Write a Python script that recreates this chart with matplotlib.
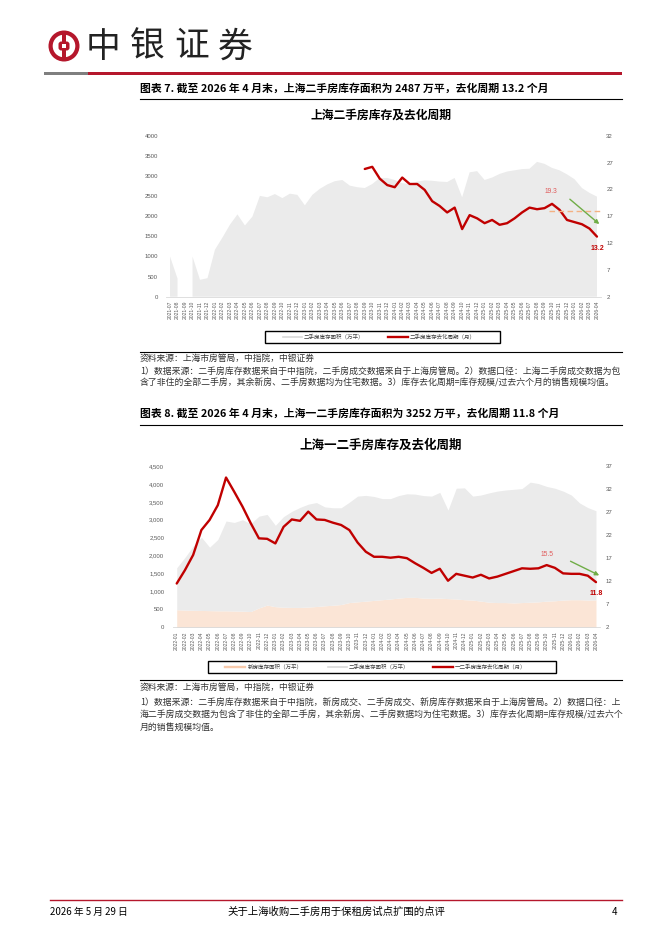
import numpy as np
import pandas as pd
import matplotlib.pyplot as plt
from matplotlib.patches import Circle, Rectangle, FancyBboxPatch

plt.rcParams['font.family'] = ['Noto Sans CJK SC', 'DejaVu Sans']

# ---- data ----
months_1 = list(pd.period_range('2021-07', '2026-04', freq='M').strftime('%Y-%m'))
months_2 = list(pd.period_range('2022-01', '2026-04', freq='M').strftime('%Y-%m'))

# 二手房库存面积（万平）, 2021-07 .. 2026-04
second_area = [1000, 450, np.nan, 1000, 420, 460, 1170, 1470, 1790, 2045,
               1770, 1990, 2505, 2470, 2550, 2450, 2560, 2530, 2270, 2530,
               2680, 2790, 2870, 2900, 2760, 2720, 2700, 2800, 2950, 2950,
               2900, 2820, 2800, 2860, 2890, 2880, 2860, 2850, 2950, 2470,
               3090, 3120, 2900, 2960, 3050, 3110, 3140, 3170, 3180, 3350,
               3300, 3200, 3140, 3040, 2920, 2700, 2580, 2487]
# 二手房库存去化周期（月）
second_cycle = [np.nan] * 26 + [25.8, 26.2, 24.0, 22.8, 22.4, 24.2, 23.0, 23.0,
                                21.9, 19.8, 18.9, 17.7, 18.6, 14.6, 17.2, 16.6,
                                15.7, 16.3, 15.4, 15.7, 16.6, 17.7, 18.6, 18.3,
                                18.5, 19.3, 18.2, 16.3, 15.9, 15.5, 14.7, 13.2]

# 新房库存面积（万平）, 2022-01 .. 2026-04
new_area = [490, 480, 475, 470, 465, 460, 460, 455, 450, 440,
            540, 620, 575, 560, 555, 555, 565, 580, 600, 615,
            635, 690, 710, 730, 750, 770, 790, 815, 835, 835,
            815, 810, 815, 800, 790, 770, 760, 730, 700, 690,
            690, 680, 690, 700, 710, 730, 740, 760, 770, 770,
            760, 765]
# 一二手房库存去化周期（月）
total_cycle = [11.5, 14.4, 17.7, 23.1, 25.3, 28.5, 34.5, 31.4, 28.2, 24.6,
               21.3, 21.2, 20.2, 23.8, 25.4, 25.1, 27.1, 25.4, 25.3, 24.7,
               24.2, 23.1, 20.4, 18.4, 17.3, 17.3, 17.1, 17.3, 17.0, 15.9,
               14.9, 13.8, 14.7, 12.1, 13.6, 13.2, 12.8, 13.4, 12.6, 13.0,
               13.6, 14.2, 14.8, 14.7, 14.8, 15.5, 14.9, 13.7, 13.6, 13.6,
               13.2, 11.8]

RED = '#c00000'
GRAY_AREA = '#ebebeb'
ORANGE_AREA = '#fbe5d6'
GREEN = '#70ad47'
TICK = '#595959'
BRAND = '#b5172c'
NOTE = '#333333'

W, H = 662, 936
fig = plt.figure(figsize=(W / 100, H / 100), dpi=100)

page = fig.add_axes([0, 0, 1, 1])
page.set_xlim(0, W)
page.set_ylim(H, 0)
page.axis('off')


def px_axes(x0, y0, x1, y1):
    return fig.add_axes([x0 / W, 1 - y1 / H, (x1 - x0) / W, (y1 - y0) / H])


# ---- header ----
cx, cy = 64, 46
page.add_patch(Circle((cx, cy), 15.5, fc=BRAND, ec='none'))
page.add_patch(Circle((cx, cy), 11.3, fc='white', ec='none'))
page.add_patch(Rectangle((cx - 1.8, cy - 13.5), 3.6, 27, fc=BRAND, ec='none'))
page.add_patch(FancyBboxPatch((cx - 5.5, cy - 4.5), 11, 9, boxstyle='round,pad=0,rounding_size=2.8',
                              fc=BRAND, ec='none'))
page.add_patch(Rectangle((cx - 2.4, cy - 1.8), 4.8, 3.6, fc='white', ec='none'))
for k, ch in enumerate('中银证券'):
    page.text(86 + k * 44, 47, ch, fontsize=25, color='#222222', va='center', ha='left')
page.add_patch(Rectangle((44, 71.5), 44, 3.5, fc='#7f7f7f', ec='none'))
page.add_patch(Rectangle((88, 71.5), 534, 3.5, fc=BRAND, ec='none'))

# ---- chart 1 ----
page.text(140, 88, '图表 7. 截至 2026 年 4 月末，上海二手房库存面积为 2487 万平，去化周期 13.2 个月',
          fontsize=7.8, fontweight='bold', va='center', ha='left', color='black')
page.plot([140, 622], [99, 99], color='black', lw=0.8)
page.text(381, 115, '上海二手房库存及去化周期', fontsize=8.5, fontweight='bold', ha='center', va='center')


def style_axes(ax, axr, labels, ymax, yticks, ylabels, rlim, rticks):
    n = len(labels)
    ax.set_facecolor('none')
    ax.set_xlim(-0.5, n - 0.5)
    ax.set_ylim(0, ymax)
    ax.set_yticks(yticks)
    ax.set_yticklabels(ylabels)
    ax.set_xticks(range(n))
    ax.set_xticklabels(labels, rotation=90)
    ax.tick_params(axis='x', length=0, labelsize=3.6, labelcolor=TICK, pad=3)
    ax.tick_params(axis='y', length=0, labelsize=4.3, labelcolor=TICK, pad=6)
    for s in ax.spines.values():
        s.set_visible(False)
    ax.spines['bottom'].set_visible(True)
    ax.spines['bottom'].set_color('#d9d9d9')
    ax.spines['bottom'].set_linewidth(0.6)
    axr.set_ylim(*rlim)
    axr.set_yticks(rticks)
    axr.tick_params(axis='y', length=0, labelsize=4.3, labelcolor=TICK, pad=4)
    for s in axr.spines.values():
        s.set_visible(False)
    for t in ax.get_xticklabels() + ax.get_yticklabels() + axr.get_yticklabels():
        t.set_family(['Liberation Sans', 'DejaVu Sans'])


x1 = np.arange(len(months_1))
ax1 = px_axes(166.3, 135.7, 600.7, 296.7)
ax1.fill_between(x1, 0, np.array(second_area, dtype=float), color=GRAY_AREA, lw=0)
ax1r = ax1.twinx()
ax1r.plot(x1, second_cycle, color=RED, lw=1.7, solid_joinstyle='round', solid_capstyle='round')
style_axes(ax1, ax1r, months_1, 4000, range(0, 4001, 500), [str(v) for v in range(0, 4001, 500)],
           (2, 32), range(2, 33, 5))
ax1r.plot([50.6, 57.7], [18.0, 18.0], color='#f4b183', lw=1.0, ls=(0, (4, 2.5)), clip_on=False)
ax1r.annotate('', xy=(57.6, 15.2), xytext=(53.1, 20.5),
              arrowprops=dict(arrowstyle='-|>', color=GREEN, lw=1.0, mutation_scale=6),
              annotation_clip=False)
ax1r.text(50.9, 21.6, '19.3', fontsize=4.8, color='#e05a5a', ha='center', va='center',
          family=['Liberation Sans', 'DejaVu Sans'])
ax1r.text(57.1, 11.0, '13.2', fontsize=5, color=RED, fontweight='bold', ha='center', va='center',
          family=['Liberation Sans', 'DejaVu Sans'])

# legend 1
page.add_patch(Rectangle((265, 331), 235, 12, fc='white', ec='black', lw=1.0))
page.plot([283, 302], [337, 337], color='#d9d9d9', lw=1.2)
page.text(304, 337, '二手房库存面积（万平）', fontsize=4, ha='left', va='center', color='#404040')
page.plot([388, 408], [337, 337], color=RED, lw=1.7)
page.text(410, 337, '二手房库存去化周期（月）', fontsize=4, ha='left', va='center', color='#404040')

page.plot([140, 622], [352, 352], color='black', lw=0.8)
page.text(140, 358, '资料来源：上海市房管局，中指院，中银证券', fontsize=6.3, ha='left', va='center', color=NOTE)
page.text(140, 371, '1）数据来源：二手房库存数据来自于中指院，二手房成交数据来自于上海房管局。2）数据口径：上海二手房成交数据为包',
          fontsize=6.4, ha='left', va='center', color=NOTE)
page.text(140, 383, '含了非住的全部二手房，其余新房、二手房数据均为住宅数据。3）库存去化周期=库存规模/过去六个月的销售规模均值。',
          fontsize=6.4, ha='left', va='center', color=NOTE)

# ---- chart 2 ----
page.text(140, 413, '图表 8. 截至 2026 年 4 月末，上海一二手房库存面积为 3252 万平，去化周期 11.8 个月',
          fontsize=7.8, fontweight='bold', va='center', ha='left', color='black')
page.plot([140, 622], [425, 425], color='black', lw=0.8)
page.text(381, 445, '上海一二手房库存及去化周期', fontsize=9, fontweight='bold', ha='center', va='center')

x2 = np.arange(len(months_2))
new = np.array(new_area, dtype=float)
second = np.array(second_area[6:], dtype=float)
ax2 = px_axes(172.6, 466, 600.1, 627.3)
ax2.fill_between(x2, 0, new, color=ORANGE_AREA, lw=0)
ax2.fill_between(x2, new, new + second, color=GRAY_AREA, lw=0)
ax2r = ax2.twinx()
ax2r.plot(x2, total_cycle, color=RED, lw=1.7, solid_joinstyle='round', solid_capstyle='round')
style_axes(ax2, ax2r, months_2, 4500, range(0, 4501, 500), [f'{v:,}' for v in range(0, 4501, 500)],
           (2, 37), range(2, 38, 5))
ax2r.annotate('', xy=(51.7, 13.0), xytext=(47.6, 16.6),
              arrowprops=dict(arrowstyle='-|>', color=GREEN, lw=1.0, mutation_scale=6),
              annotation_clip=False)
ax2r.text(45.0, 17.9, '15.5', fontsize=4.8, color='#e05a5a', ha='center', va='center',
          family=['Liberation Sans', 'DejaVu Sans'])
ax2r.text(51.0, 9.4, '11.8', fontsize=5, color=RED, fontweight='bold', ha='center', va='center',
          family=['Liberation Sans', 'DejaVu Sans'])

# legend 2
page.add_patch(Rectangle((208, 661), 348, 12, fc='white', ec='black', lw=1.0))
page.plot([225, 245], [667, 667], color='#f8cbad', lw=1.7)
page.text(248, 667, '新房库存面积（万平）', fontsize=4, ha='left', va='center', color='#404040')
page.plot([328, 347], [667, 667], color='#d9d9d9', lw=1.2)
page.text(349, 667, '二手房库存面积（万平）', fontsize=4, ha='left', va='center', color='#404040')
page.plot([433, 453], [667, 667], color=RED, lw=1.7)
page.text(455, 667, '一二手房库存去化周期（月）', fontsize=4, ha='left', va='center', color='#404040')

page.plot([140, 622], [680, 680], color='black', lw=0.8)
page.text(140, 687, '资料来源：上海市房管局，中指院，中银证券', fontsize=6.3, ha='left', va='center', color=NOTE)
page.text(140, 702, '1）数据来源：二手房库存数据来自于中指院，新房成交、二手房成交、新房库存数据来自于上海房管局。2）数据口径：上',
          fontsize=6.4, ha='left', va='center', color=NOTE)
page.text(140, 715, '海二手房成交数据为包含了非住的全部二手房，其余新房、二手房数据均为住宅数据。3）库存去化周期=库存规模/过去六个',
          fontsize=6.4, ha='left', va='center', color=NOTE)
page.text(140, 727, '月的销售规模均值。', fontsize=6.4, ha='left', va='center', color=NOTE)

# ---- footer ----
page.plot([50, 622], [900, 900], color=BRAND, lw=1.0)
page.text(50, 912, '2026 年 5 月 29 日', fontsize=7, ha='left', va='center', color='black')
page.text(336, 912, '关于上海收购二手房用于保租房试点扩围的点评', fontsize=7.5, ha='center', va='center',
          color='black')
page.text(615, 912, '4', fontsize=7, ha='center', va='center', color='black')

fig.savefig('out.png', dpi=100)
